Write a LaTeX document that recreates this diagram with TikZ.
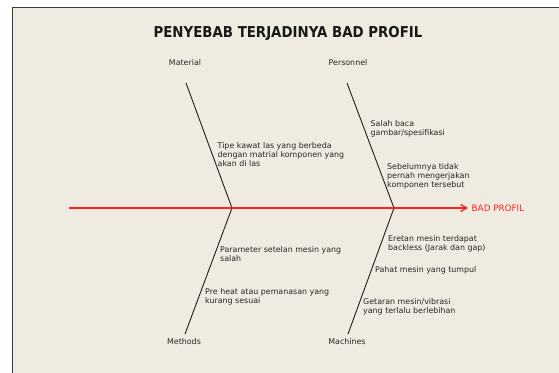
\documentclass[tikz,border=0pt]{standalone}
\usepackage{fontspec}
\setmainfont{DejaVu Sans}
\usetikzlibrary{arrows.meta}
\definecolor{bgbeige}{HTML}{EFEBE0}
\definecolor{framegray}{HTML}{3C3C3C}
\definecolor{bonecol}{HTML}{1E1E1E}
\definecolor{spinered}{HTML}{FF2020}
\tikzset{
  smalltext/.style={font=\fontsize{7.9}{9}\selectfont, text=black!85, inner sep=0pt, align=left, anchor=north west},
  cattext/.style={font=\fontsize{7.9}{9}\selectfont, text=black!85, inner sep=0pt, anchor=center},
  bone/.style={draw=bonecol, line width=0.9pt},
  spine/.style={draw=spinered, line width=1.2pt, -{Straight Barb[length=6pt,width=7pt,line width=1.3pt]}},
}
\begin{document}
\begin{tikzpicture}[x=1pt,y=-1pt]
\useasboundingbox (0,0) rectangle (559,372);
\fill[white] (0,0) rectangle (559,372);
\fill[bgbeige] (12.5,7.5) rectangle (560,373);
\draw[framegray, line width=1.5pt] (12.5,373) -- (12.5,7.5) -- (560,7.5);

% title
\node[inner sep=0pt, text=black!90] (title) at (288,33)
  {\scalebox{0.89}[1]{\fontsize{15}{15}\selectfont\bfseries PENYEBAB TERJADINYA BAD PROFIL}};

% category labels
\node[cattext] (matT) at (185,63) {Material};
\node[cattext] (perT) at (348,63) {Personnel};
\node[cattext] (metT) at (184,342) {Methods};
\node[cattext] (macT) at (347,342) {Machines};

% bone coordinates
\coordinate (matTop) at (186,83);
\coordinate (perTop) at (347,83);
\coordinate (j1) at (232,208);
\coordinate (j2) at (394,208);
\coordinate (metBot) at (185,334);
\coordinate (macBot) at (348,334);
\coordinate (spineStart) at (69,208);

% effect
\node[inner xsep=3.5pt, inner ysep=0pt, anchor=west, text=spinered, font=\fontsize{8.8}{10}\selectfont] (effect) at (468,208) {BAD PROFIL};

% bones
\draw[bone] (matTop) -- (j1) -- (metBot);
\draw[bone] (perTop) -- (j2) -- (macBot);

% spine
\draw[spine] (spineStart) -- (effect.west);

% causes
\node[smalltext] (c1) at (217.5,142.5) {Tipe kawat las yang berbeda\\dengan matrial komponen yang\\akan di las};
\node[smalltext] (c2) at (370.5,120.5) {Salah baca\\gambar/spesifikasi};
\node[smalltext] (c3) at (387,163.5) {Sebelumnya tidak\\pernah mengerjakan\\komponen tersebut};
\node[smalltext] (c4) at (220,246.5) {Parameter setelan mesin yang\\salah};
\node[smalltext] (c5) at (205,288.5) {Pre heat atau pemanasan yang\\kurang sesuai};
\node[smalltext] (c6) at (388,235.5) {Eretan mesin terdapat\\backless (Jarak dan gap)};
\node[smalltext] (c7) at (375,266.5) {Pahat mesin yang tumpul};
\node[smalltext] (c8) at (363,298.5) {Getaran mesin/vibrasi\\yang terlalu berlebihan};
\end{tikzpicture}
\end{document}
